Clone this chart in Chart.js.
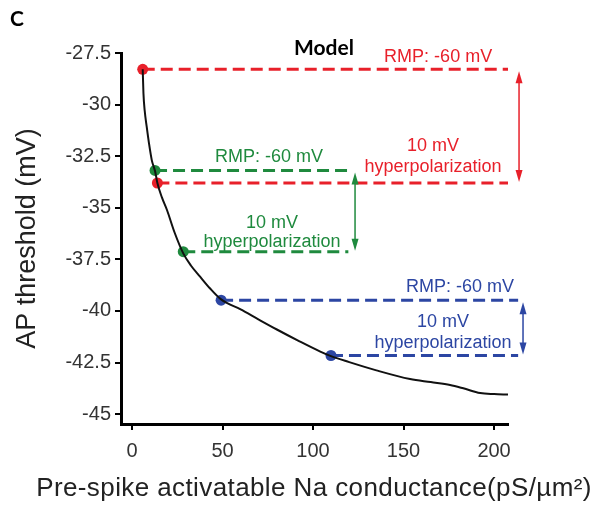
<!DOCTYPE html>
<html>
<head>
<meta charset="utf-8">
<script src="https://cdn.jsdelivr.net/npm/chart.js@4.4.1/dist/chart.umd.min.js"></script>
<style>
  html, body { margin: 0; padding: 0; background: #fff; }
  #wrap { width: 605px; height: 508px; }
</style>
</head>
<body>
<div id="wrap"><canvas id="myChart" width="605" height="508"></canvas></div>
<script>
// model curve: AP threshold vs pre-spike activatable Na conductance
var conductance = [5.9, 6.3, 7.0, 8.1, 9.4, 10.9, 12.7, 14.0, 16.5, 19.3, 23.5, 28.3, 32.5, 37.6, 43, 49.2, 60, 70, 80, 92, 104, 109.9, 120, 135, 153.6, 165, 175.7, 183, 192.3, 200, 207.7];
var threshold = [-28.29, -29.45, -30.3, -31.07, -31.9, -32.69, -33.22, -33.80, -34.5, -35.11, -36.2, -37.21, -37.8, -38.34, -38.9, -39.44, -39.93, -40.42, -40.9, -41.45, -41.97, -42.19, -42.48, -42.88, -43.30, -43.45, -43.59, -43.75, -43.98, -44.03, -44.05];

// marked points: [RMP -60 mV, 10 mV hyperpolarization]
var redX = [5.9, 14.0];
var redY = [-28.29, -33.80];
var greenX = [12.7, 28.3];
var greenY = [-33.19, -37.13];
var blueX = [49.2, 109.9];
var blueY = [-39.48, -42.16];

// where the dashed guides end, and where the arrows sit
var guideEnd = [207.7, 119.5, 213.3];
var arrowX = [213.8, 123.2, 216.0];

var xTicks = [0, 50, 100, 150, 200];
var yTicks = [-27.5, -30, -32.5, -35, -37.5, -40, -42.5, -45];

var RED = '#e8202a', GREEN = '#1f8a3e', BLUE = '#2c46a3';
var SANS = '"Liberation Sans", Arial, sans-serif';

function guide(x0, x1, y, color) {
    return {
        data: [{x: x0, y: y}, {x: x1, y: y}],
        borderColor: color,
        backgroundColor: color,
        borderWidth: 3,
        borderDash: [12, 6],
        pointRadius: [5.5, 0],
        pointBorderWidth: 0,
        pointBackgroundColor: color,
        clip: false
    };
}

var annotate = {
    id: 'annotate',
    afterDatasetsDraw: function(chart) {
        var c = chart.ctx, xs = chart.scales.x, ys = chart.scales.y;
        var sets = [[redY, RED], [greenY, GREEN], [blueY, BLUE]];
        c.save();
        // double arrows
        for (var i = 0; i < 3; i++) {
            var px = xs.getPixelForValue(arrowX[i]);
            var top = ys.getPixelForValue(sets[i][0][0]) + 2;
            var bot = ys.getPixelForValue(sets[i][0][1]) - 1;
            c.strokeStyle = sets[i][1];
            c.fillStyle = sets[i][1];
            c.lineWidth = 1.5;
            c.beginPath();
            c.moveTo(px, top + 10);
            c.lineTo(px, bot - 10);
            c.stroke();
            c.beginPath();
            c.moveTo(px, top); c.lineTo(px - 3.5, top + 12); c.lineTo(px + 3.5, top + 12); c.closePath();
            c.fill();
            c.beginPath();
            c.moveTo(px, bot); c.lineTo(px - 3.5, bot - 12); c.lineTo(px + 3.5, bot - 12); c.closePath();
            c.fill();
        }
        // labels
        c.font = '18px ' + SANS;
        c.textAlign = 'center';
        c.textBaseline = 'middle';
        function label(txt, x, y, color) {
            c.fillStyle = color;
            c.fillText(txt, xs.getPixelForValue(x), ys.getPixelForValue(y));
        }
        label('RMP: -60 mV', 169.1, -27.69, RED);
        label('10 mV', 166.3, -32.0, RED);
        label('hyperpolarization', 166.3, -33.02, RED);
        label('RMP: -60 mV', 75.7, -32.56, GREEN);
        label('10 mV', 77.3, -35.72, GREEN);
        label('hyperpolarization', 77.3, -36.68, GREEN);
        label('RMP: -60 mV', 181.2, -38.84, BLUE);
        label('10 mV', 171.8, -40.54, BLUE);
        label('hyperpolarization', 171.8, -41.56, BLUE);

        // x axis title, wider than the plot area
        c.fillStyle = '#222';
        c.font = '26px ' + SANS;
        c.textBaseline = 'alphabetic';
        c.letterSpacing = '0.4px';
        c.fillText('Pre-spike activatable Na conductance(pS/µm²)', 314, 496);
        c.letterSpacing = '0px';

        c.fillStyle = '#000';
        c.textBaseline = 'middle';
        c.font = 'bold 21px Lato, "Open Sans", sans-serif';
        c.fillText('Model', xs.getPixelForValue(106), ys.getPixelForValue(-27.26));
        c.textAlign = 'left';
        c.fillText('C', 10, 19);
        c.restore();
    }
};

var ctx = document.getElementById('myChart').getContext('2d');

var curve = conductance.map(function(x, i) { return {x: x, y: threshold[i]}; });

var myChart = new Chart(ctx, {
    type: 'line',
    data: {
        datasets: [
            {
                data: curve,
                borderColor: '#111',
                borderWidth: 2,
                pointRadius: 0,
                cubicInterpolationMode: 'monotone'
            },
            guide(redX[0], guideEnd[0], redY[0], RED),
            guide(redX[1], guideEnd[0], redY[1], RED),
            guide(greenX[0], guideEnd[1], greenY[0], GREEN),
            guide(greenX[1], guideEnd[1], greenY[1], GREEN),
            guide(blueX[0], guideEnd[2], blueY[0], BLUE),
            guide(blueX[1], guideEnd[2], blueY[1], BLUE)
        ]
    },
    options: {
        responsive: false,
        animation: false,
        layout: { padding: { top: 53, right: 97, left: 0, bottom: 0 } },
        plugins: {
            legend: { display: false },
            tooltip: { enabled: false }
        },
        scales: {
            x: {
                type: 'linear',
                min: -6.1,
                max: 207.7,
                afterFit: function(s) { s.height = 84; },
                afterBuildTicks: function(s) { s.ticks = xTicks.map(function(v) { return {value: v}; }); },
                grid: { drawOnChartArea: false, tickLength: 6, color: '#000', lineWidth: 2 },
                border: { color: '#000', width: 3 },
                ticks: {
                    padding: 9,
                    color: '#333',
                    font: { family: SANS, size: 20 }
                }
            },
            y: {
                min: -45.48,
                max: -27.5,
                afterFit: function(s) { s.width = 121; },
                afterBuildTicks: function(s) { s.ticks = yTicks.map(function(v) { return {value: v}; }); },
                grid: { drawOnChartArea: false, tickLength: 6, color: '#000', lineWidth: 2 },
                border: { color: '#000', width: 3 },
                ticks: {
                    padding: 4,
                    color: '#333',
                    callback: function(v) { return String(v); },
                    font: { family: SANS, size: 20 }
                },
                title: {
                    display: true,
                    text: 'AP threshold (mV)',
                    color: '#222',
                    padding: { top: 11, bottom: 0 },
                    font: { family: SANS, size: 27, weight: 'normal' }
                }
            }
        }
    },
    plugins: [annotate]
});
</script>
</body>
</html>
